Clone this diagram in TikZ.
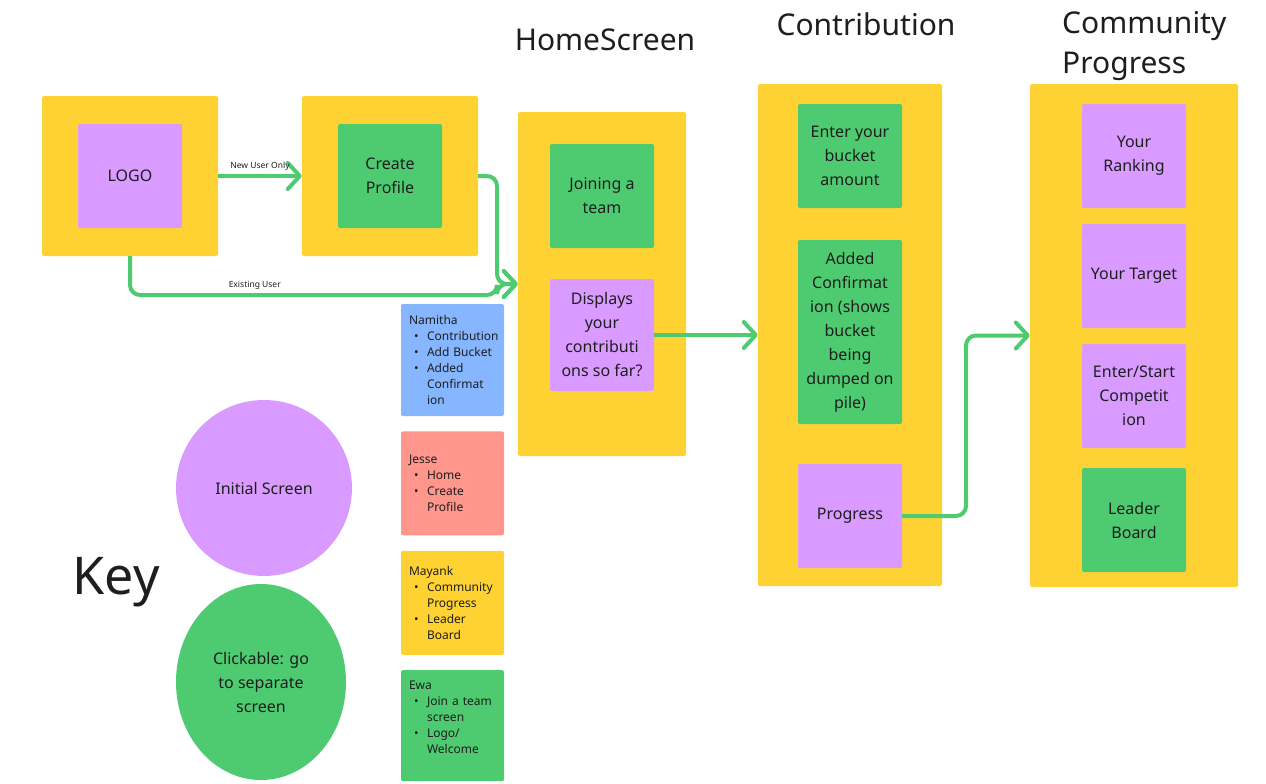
\documentclass[tikz,border=0pt]{standalone}
\usepackage{fontspec}
\setmainfont{Noto Sans}
\usetikzlibrary{positioning}
\usetikzlibrary{arrows.meta}
\usetikzlibrary{shapes.geometric}
\definecolor{screenyellow}{HTML}{FFD233}
\definecolor{screenpurple}{HTML}{D99BFF}
\definecolor{screengreen}{HTML}{4ECB71}
\definecolor{noteblue}{HTML}{85B6FF}
\definecolor{notered}{HTML}{FF968C}
\definecolor{inktext}{HTML}{1E1E1E}
\newcommand{\bul}{\hspace*{5pt}\makebox[13pt][l]{\textbullet}}
\newcommand{\cont}{\hspace*{18pt}}
\tikzset{screen node/.style={fill=screenyellow, rounded corners=2pt, inner sep=0pt},}
\tikzset{page node/.style={rounded corners=2pt, inner sep=0pt, text=inktext, align=center, font=\fontsize{16}{24}\selectfont, minimum width=104pt, minimum height=104pt},}
\tikzset{initial node/.style={page node, fill=screenpurple},}
\tikzset{clickable node/.style={page node, fill=screengreen},}
\tikzset{sticky node/.style={rounded corners=2pt, text=inktext, align=left, text width=87pt, inner xsep=8pt, font=\fontsize{12}{16}\selectfont, minimum height=104pt},}
\tikzset{title node/.style={text=inktext, font=\fontsize{30}{40}\selectfont, inner sep=0pt},}
\tikzset{flow/.style={draw=screengreen, line width=4pt, rounded corners=10pt, -{Straight Barb[length=12pt 0, width=26pt 0, round]}},}
\tikzset{flow label/.style={text=inktext, font=\fontsize{8.5}{10}\selectfont, inner sep=1pt},}

\begin{document}
\begin{tikzpicture}[x=1pt, y=-1pt]
     \useasboundingbox[fill=white] (0,0) rectangle (1266,784);

     % screens
     \node[screen node, minimum width=176pt, minimum height=160pt] (logoscreen) at (130,176) {};
     \node[initial node] (logo) at (130,176) {LOGO};
     \node[screen node, minimum width=176pt, minimum height=160pt] (createscreen) at (390,176) {};
     \node[clickable node] (create) at (390,176) {Create\\Profile};

     \node[title node] (hometitle) at (605,40) {HomeScreen};
     \node[screen node, minimum width=168pt, minimum height=344pt] (homescreen) at (602,284) {};
     \node[clickable node] (joining) at (602,196) {Joining a\\team};
     \node[initial node, minimum height=112pt] (displays) at (602,335) {Displays\\your\\contributi\\ons so far?};

     \node[title node] (contribtitle) at (866,24) {Contribution};
     \node[screen node, minimum width=184pt, minimum height=502pt] (contribscreen) at (850,335) {};
     \node[clickable node] (enter) at (850,156) {Enter your\\bucket\\amount};
     \node[clickable node, minimum height=184pt] (added) at (850,332) {Added\\Confirmat\\ion (shows\\bucket\\being\\dumped on\\pile)};
     \node[initial node] (progress) at (850,516) {Progress};

     \node[title node, anchor=west, align=left] (communitytitle) at (1062,46) {Community\\Progress};
     \node[screen node, minimum width=208pt, minimum height=503pt] (communityscreen) at (1134,335.5) {};
     \node[initial node] (ranking) at (1134,156) {Your\\Ranking};
     \node[initial node] (target) at (1134,276) {Your Target};
     \node[initial node] (competition) at (1134,396) {Enter/Start\\Competit\\ion};
     \node[clickable node] (leader) at (1134,520) {Leader\\Board};

     % who does what
     \node[sticky node, fill=noteblue, minimum height=112pt] (namitha) at (452.5,360) {Namitha\\\bul Contribution\\\bul Add Bucket\\\bul Added\\\cont Confirmat\\\cont ion};
     \node[sticky node, fill=notered] (jesse) [below=15pt of namitha] {Jesse\\\bul Home\\\bul Create\\\cont Profile};
     \node[sticky node, fill=screenyellow] (mayank) [below=15pt of jesse] {Mayank\\\bul Community\\\cont Progress\\\bul Leader\\\cont Board};
     \node[sticky node, fill=screengreen, minimum height=111pt] (ewa) [below=15pt of mayank] {Ewa\\\bul Join a team\\\cont screen\\\bul Logo/\\\cont Welcome\\\mbox{}};

     % key
     \node[text=inktext, font=\fontsize{52}{60}\selectfont, inner sep=0pt] (key) at (116,582) {Key};
     \node[circle, fill=screenpurple, minimum size=176pt, text=inktext, font=\fontsize{16}{24}\selectfont] (initialkey) at (264,488) {Initial Screen};
     \node[ellipse, fill=screengreen, minimum width=170pt, minimum height=196pt, inner sep=0pt, align=center, text=inktext, font=\fontsize{16}{24}\selectfont] (clickkey) at (261,682) {Clickable: go\\to separate\\screen};

     % connectors
     \coordinate (merge) at (497,284);
     \coordinate (turn) at (966,335.5);
     \draw[flow] (logoscreen.east) -- node[flow label, above=2pt] {New User Only} (createscreen.west);
     \draw[flow] (createscreen.east) -| (merge) -- (homescreen.west);
     \draw[flow] (logoscreen.south) |- node[flow label, above=2pt, pos=0.67] {Existing User} (merge |- 0,295) -- (merge) -- (homescreen.west);
     \draw[flow] (displays.east) -- (contribscreen.west);
     \draw[flow] (progress.east) -| (turn) -- (communityscreen.west);
  \end{tikzpicture}
\end{document}
